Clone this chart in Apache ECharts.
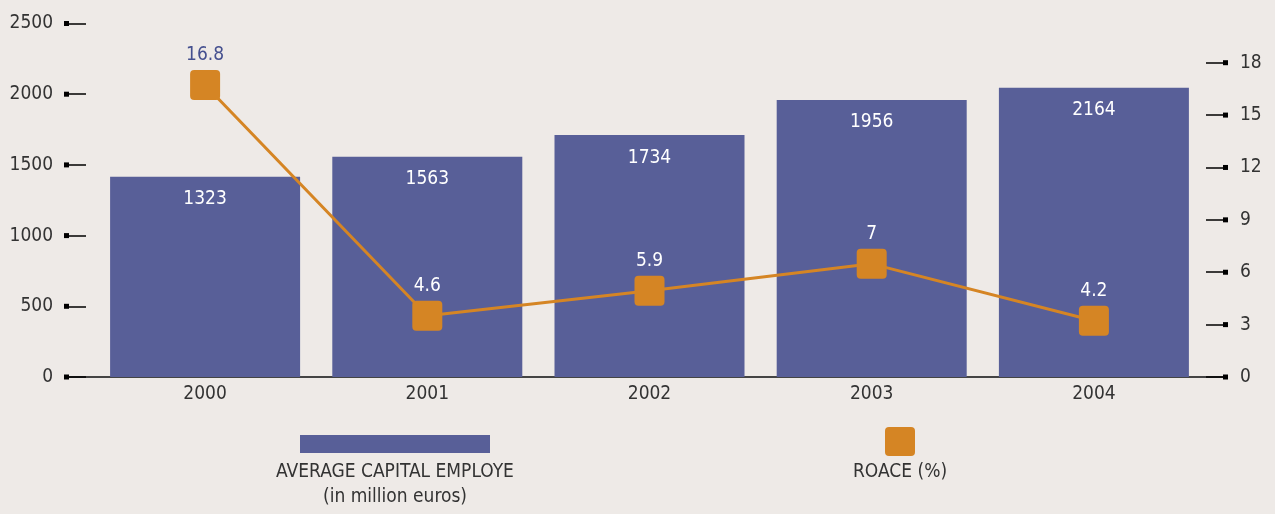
<!DOCTYPE html>
<html>
<head>
<meta charset="utf-8">
<script src="https://cdn.jsdelivr.net/npm/echarts@6/dist/echarts.min.js"></script>
<style>
html,body{margin:0;padding:0;background:#eeeae7;}
#c{width:1275px;height:514px;}
</style>
</head>
<body>
<div id="c"></div>
<script>
// ---- data ----
var years = ['2000', '2001', '2002', '2003', '2004'];
var capitalValues = [1416, 1558, 1711, 1959, 2046];      // bar heights as drawn
var capitalLabels = ['1323', '1563', '1734', '1956', '2164'];
var roaceValues = [16.72, 3.51, 4.94, 6.48, 3.22];       // marker positions as drawn
var roaceLabels = ['16.8', '4.6', '5.9', '7', '4.2'];
var leftTicks = [0, 500, 1000, 1500, 2000, 2500];
var rightTicks = [0, 3, 6, 9, 12, 15, 18];
var legendBar = ['AVERAGE CAPITAL EMPLOYE', '(in million euros)'];
var legendLine = ['ROACE (%)'];

var FONT = "'DejaVu Sans Condensed','Liberation Sans Narrow',sans-serif";
var FS = 19;
var BAR = '#585f98';
var ORANGE = '#d58524';
var TXT = '#333333';
var SQ = 'path://M4,0 H26 A4,4 0 0 1 30,4 V26 A4,4 0 0 1 26,30 H4 A4,4 0 0 1 0,26 V4 A4,4 0 0 1 4,0 Z';

var chart = echarts.init(document.getElementById('c'), null, {renderer: 'canvas'});

var leftRich = {
  v: {fontFamily: FONT, fontSize: FS, color: TXT, verticalAlign: 'middle'},
  g: {width: 11, height: 5, verticalAlign: 'middle'},
  s: {width: 5, height: 5, backgroundColor: '#000', verticalAlign: 'middle'}
};
var rightRich = {
  v: {fontFamily: FONT, fontSize: FS, color: TXT, verticalAlign: 'middle'},
  g: {width: 12, height: 5, verticalAlign: 'middle'},
  s: {width: 5, height: 5, backgroundColor: '#000', verticalAlign: 'middle'}
};

var option = {
  backgroundColor: '#eeeae7',
  animation: false,
  textStyle: {fontFamily: FONT},
  grid: [
    {left: 69, right: 52, top: 23.5, height: 353.5},     // left axis frame
    {left: 69, right: 52, top: 62.7, height: 314.3},     // right axis frame
    {left: 94, width: 1111, top: 23.5, height: 353.5},   // bars
    {left: 94, width: 1111, top: 62.7, height: 314.3}    // line
  ],
  xAxis: [
    {gridIndex: 0, type: 'value', min: 0, max: 1, axisLine: {show: true, onZero: false, lineStyle: {color: '#444', width: 2}},
      axisTick: {show: false}, axisLabel: {show: false}, splitLine: {show: false}},
    {gridIndex: 1, type: 'value', min: 0, max: 1, show: false},
    {gridIndex: 2, type: 'category', data: years, axisLine: {show: false}, axisTick: {show: false},
      axisLabel: {color: TXT, fontFamily: FONT, fontSize: FS, margin: 8}},
    {gridIndex: 3, type: 'category', data: years, show: false}
  ],
  yAxis: [
    {gridIndex: 0, type: 'value', position: 'left', min: leftTicks[0], max: leftTicks[leftTicks.length - 1], interval: 500,
      axisLine: {show: false, onZero: false}, splitLine: {show: false},
      axisTick: {show: true, inside: true, length: 17, lineStyle: {color: '#000', width: 1.5}},
      axisLabel: {margin: 0, formatter: function (v) { return '{v|' + v + '}{g|}{s|}'; }, rich: leftRich}},
    {gridIndex: 1, type: 'value', position: 'right', min: rightTicks[0], max: rightTicks[rightTicks.length - 1], interval: 3,
      axisLine: {show: false, onZero: false}, splitLine: {show: false},
      axisTick: {show: true, inside: true, length: 17, lineStyle: {color: '#000', width: 1.5}},
      axisLabel: {margin: 0, formatter: function (v) { return '{s|}{g|}{v|' + v + '}'; }, rich: rightRich}},
    {gridIndex: 2, type: 'value', min: 0, max: 2500, show: false},
    {gridIndex: 3, type: 'value', min: 0, max: 18, show: false}
  ],
  series: [
    {
      type: 'bar', xAxisIndex: 2, yAxisIndex: 2, data: capitalValues, barWidth: 190,
      itemStyle: {color: BAR},
      label: {show: true, position: 'insideTop', distance: 13, color: '#fff', fontFamily: FONT, fontSize: FS,
        formatter: function (p) { return capitalLabels[p.dataIndex]; }},
      z: 2
    },
    {
      type: 'line', xAxisIndex: 3, yAxisIndex: 3,
      data: roaceValues.map(function (v, i) {
        return {value: v, label: {color: i === 0 ? '#45508f' : '#ffffff'}};
      }),
      symbol: SQ, symbolSize: 30,
      itemStyle: {color: ORANGE},
      lineStyle: {color: ORANGE, width: 3},
      label: {show: true, position: 'top', distance: 5, fontFamily: FONT, fontSize: FS,
        formatter: function (p) { return roaceLabels[p.dataIndex]; }},
      z: 5
    }
  ],
  graphic: [
    {type: 'rect', left: 300, top: 435, shape: {width: 190, height: 18}, style: {fill: BAR}},
    {type: 'text', x: 395, y: 472, style: {text: legendBar[0], fill: TXT, font: FS + 'px ' + FONT, align: 'center', verticalAlign: 'middle'}},
    {type: 'text', x: 395, y: 497, style: {text: legendBar[1], fill: TXT, font: FS + 'px ' + FONT, align: 'center', verticalAlign: 'middle'}},
    {type: 'rect', left: 885, top: 427, shape: {width: 30, height: 29, r: 4}, style: {fill: ORANGE}},
    {type: 'text', x: 900, y: 472, style: {text: legendLine[0], fill: TXT, font: FS + 'px ' + FONT, align: 'center', verticalAlign: 'middle'}}
  ]
};
chart.setOption(option);
</script>
</body>
</html>
